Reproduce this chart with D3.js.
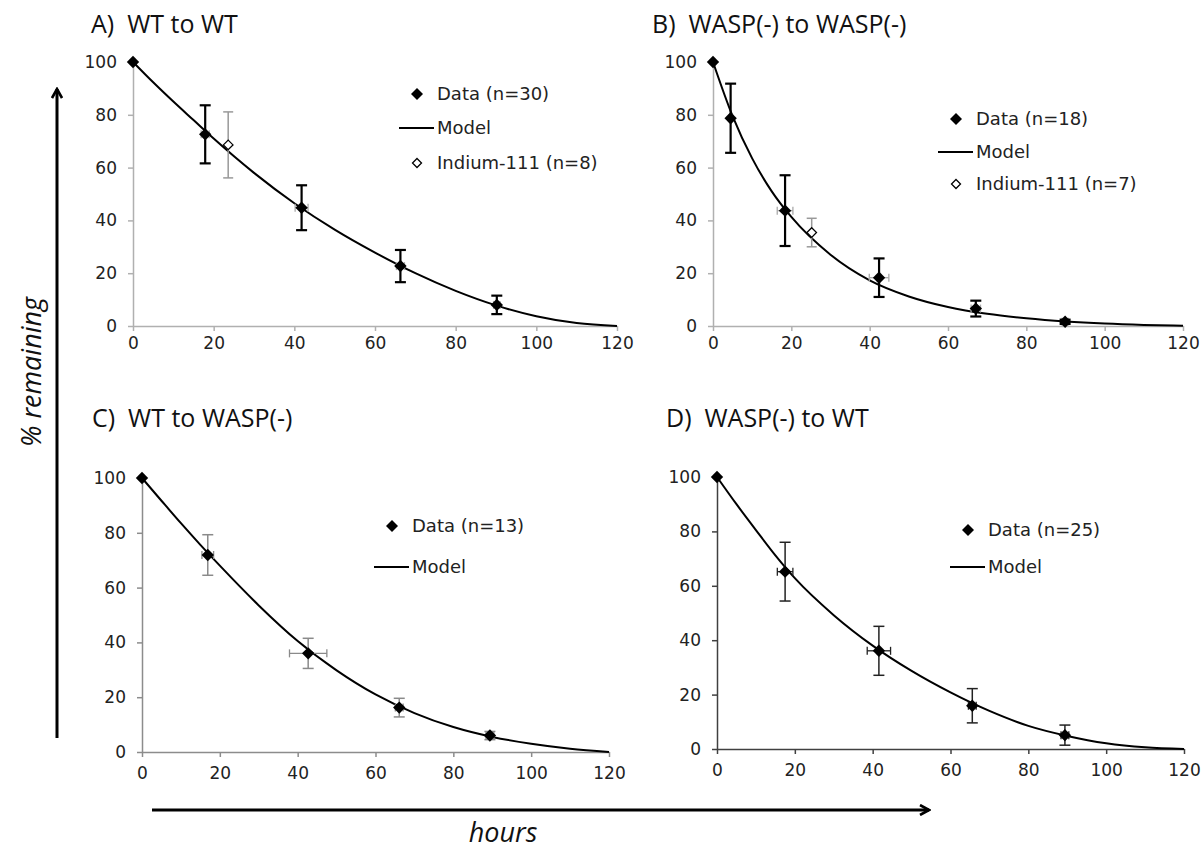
<!DOCTYPE html>
<html>
<head>
<meta charset="utf-8">
<script src="https://cdn.jsdelivr.net/npm/d3@7"></script>
<style>
  body { margin: 0; background: #fff; }
  svg { display: block; }
</style>
</head>
<body>
<div id="chart"></div>
<script>
// ---- data ----
const xTicks = [0, 20, 40, 60, 80, 100, 120];
const yTicks = [0, 20, 40, 60, 80, 100];

const titles = ["A)  WT to WT", "B)  WASP(-) to WASP(-)", "C)  WT to WASP(-)", "D)  WASP(-) to WT"];
const dataLabels = ["Data (n=30)", "Data (n=18)", "Data (n=13)", "Data (n=25)"];
const indiumLabels = ["Indium-111 (n=8)", "Indium-111 (n=7)", null, null];

// model curves
const modelHours = [0, 5, 10, 15, 20, 30, 40, 50, 60, 70, 80, 90, 100, 110, 120];
const modelA = [100, 92.3, 85, 78, 71, 58, 46.5, 36.5, 27.8, 20, 13.3, 7.8, 3.7, 1.1, 0];
const modelB = [100, 79.5, 63.5, 51, 41.3, 27, 17.3, 11.2, 7.2, 4.6, 2.9, 1.7, 0.9, 0.4, 0.1];
const modelC = [100, 91.7, 83.5, 75.6, 68, 53.5, 40.5, 29.8, 21, 14.2, 9.1, 5.5, 3, 1.2, 0];
const modelD = [100, 90, 80.5, 71.2, 62.8, 49.2, 38, 28.7, 20.8, 14, 8.5, 4.8, 2.1, 0.6, 0];

// measured points: hours, % remaining, +/- error (vertical), +/- error (hours)
const hoursA = [0, 17.9, 41.8, 66.3, 90.2];
const pctA   = [100, 72.6, 44.8, 22.7, 8.0];
const errA   = [0, 11, 8.5, 6.1, 3.5];
const hErrA  = [0, 1, 1.6, 1, 0.8];
const indHoursA = [23.6];
const indPctA   = [68.6];
const indErrA   = [12.5];

const hoursB = [0, 4.5, 18.4, 42.4, 67.1, 89.9];
const pctB   = [100, 78.7, 43.7, 18.3, 6.6, 1.6];
const errB   = [0, 13.1, 13.4, 7.3, 3, 0.8];
const hErrB  = [0, 0.5, 2, 2.5, 1.2, 0.8];
const indHoursB = [25.2];
const indPctB   = [35.4];
const indErrB   = [5.4];

const hoursC = [0, 16.9, 42.7, 66.1, 89.4];
const pctC   = [100, 71.9, 36.0, 16.2, 6.0];
const errC   = [0, 7.4, 5.5, 3.4, 1.5];
const hErrC  = [0, 1.5, 4.8, 1, 1];

const hoursD = [0, 17.5, 41.6, 65.6, 89.4];
const pctD   = [100, 65.2, 36.1, 15.9, 5.1];
const errD   = [0, 10.8, 9, 6.3, 3.7];
const hErrD  = [0, 2, 3, 1, 1];

// ---- layout ----
const W = 1204, H = 849;
const svg = d3.select("#chart").append("svg")
  .attr("width", W)
  .attr("height", H);

const panels = [
  { i: 0, left: 133, right: 617, top: 62, bottom: 326, titleX: 91, titleY: 33,
    axisColor: "#b0b0b0", barColor: "#000", barW: 2.2, hBarColor: "#aaa", pad: 6,
    model: modelA, hours: hoursA, pct: pctA, err: errA, hErr: hErrA,
    ind: { hours: indHoursA, pct: indPctA, err: indErrA },
    leg: { x: 417, y: [94, 128, 163] } },
  { i: 1, left: 713, right: 1183, top: 62, bottom: 326, titleX: 652, titleY: 33,
    axisColor: "#b0b0b0", barColor: "#000", barW: 2.2, hBarColor: "#aaa", pad: 6,
    model: modelB, hours: hoursB, pct: pctB, err: errB, hErr: hErrB,
    ind: { hours: indHoursB, pct: indPctB, err: indErrB },
    leg: { x: 956, y: [119, 152, 184] } },
  { i: 2, left: 142, right: 609, top: 478, bottom: 752, titleX: 92, titleY: 427,
    axisColor: "#8c8c8c", barColor: "#8a8a8a", barW: 1.5, hBarColor: "#8a8a8a", pad: 10,
    model: modelC, hours: hoursC, pct: pctC, err: errC, hErr: hErrC,
    ind: null,
    leg: { x: 392, y: [526, 567] } },
  { i: 3, left: 717, right: 1184, top: 477, bottom: 749, titleX: 666, titleY: 427,
    axisColor: "#404040", barColor: "#222", barW: 1.5, hBarColor: "#222", pad: 10,
    model: modelD, hours: hoursD, pct: pctD, err: errD, hErr: hErrD,
    ind: null,
    leg: { x: 968, y: [530, 567] } }
];

function diamond(r) {
  return `M0,${-r}L${r},0L0,${r}L${-r},0Z`;
}

function drawPanel(p) {
  const g = svg.append("g");

  const x = d3.scaleLinear().domain([0, 120]).range([p.left, p.right]);
  const y = d3.scaleLinear().domain([0, 100]).range([p.bottom, p.top]);

  // title
  g.append("text")
    .attr("x", p.titleX)
    .attr("y", p.titleY)
    .attr("font-family", "Open Sans, sans-serif")
    .attr("font-size", 25)
    .attr("fill", "#111")
    .style("white-space", "pre")
    .text(titles[p.i]);

  // axes
  const xAxis = g.append("g")
    .attr("transform", `translate(0,${p.bottom})`)
    .call(d3.axisBottom(x).tickValues(xTicks).tickSize(5).tickSizeOuter(0).tickPadding(p.pad));
  const yAxis = g.append("g")
    .attr("transform", `translate(${p.left},0)`)
    .call(d3.axisLeft(y).tickValues(yTicks).tickSize(5).tickSizeOuter(0).tickPadding(11));

  [xAxis, yAxis].forEach(a => {
    a.select(".domain").attr("stroke", p.axisColor).attr("stroke-width", 1.5);
    a.selectAll(".tick line").attr("stroke", p.axisColor).attr("stroke-width", 1.5);
    a.selectAll(".tick text")
      .attr("fill", "#222")
      .attr("font-family", "DejaVu Sans, Verdana, sans-serif")
      .attr("font-size", 17);
  });

  // model line
  const line = d3.line()
    .x((d, k) => x(modelHours[k]))
    .y(d => y(d))
    .curve(d3.curveMonotoneX);
  g.append("path")
    .datum(p.model)
    .attr("d", line)
    .attr("fill", "none")
    .attr("stroke", "#000")
    .attr("stroke-width", 2);

  // indium points (drawn first, behind data)
  if (p.ind) {
    p.ind.hours.forEach((h, k) => {
      const cx = x(h), v = p.ind.pct[k], e = p.ind.err[k];
      g.append("line")
        .attr("x1", cx).attr("x2", cx)
        .attr("y1", y(v + e)).attr("y2", y(v - e))
        .attr("stroke", "#999").attr("stroke-width", 1.5);
      [v + e, v - e].forEach(c => {
        g.append("line")
          .attr("x1", cx - 5).attr("x2", cx + 5)
          .attr("y1", y(c)).attr("y2", y(c))
          .attr("stroke", "#999").attr("stroke-width", 1.5);
      });
      g.append("path")
        .attr("d", diamond(4.8))
        .attr("transform", `translate(${cx},${y(v)})`)
        .attr("fill", "#fff")
        .attr("stroke", "#000")
        .attr("stroke-width", 1.3);
    });
  }

  // data points with error bars
  p.hours.forEach((h, k) => {
    const cx = x(h), cy = y(p.pct[k]), e = p.err[k], he = p.hErr[k];
    if (he > 0) {
      g.append("line")
        .attr("x1", x(h - he)).attr("x2", x(h + he))
        .attr("y1", cy).attr("y2", cy)
        .attr("stroke", p.hBarColor).attr("stroke-width", 1.3);
      [h - he, h + he].forEach(c => {
        g.append("line")
          .attr("x1", x(c)).attr("x2", x(c))
          .attr("y1", cy - 4).attr("y2", cy + 4)
          .attr("stroke", p.hBarColor).attr("stroke-width", 1.3);
      });
    }
    if (e > 0) {
      g.append("line")
        .attr("x1", cx).attr("x2", cx)
        .attr("y1", y(p.pct[k] + e)).attr("y2", y(p.pct[k] - e))
        .attr("stroke", p.barColor).attr("stroke-width", p.barW);
      [p.pct[k] + e, p.pct[k] - e].forEach(c => {
        g.append("line")
          .attr("x1", cx - 5.5).attr("x2", cx + 5.5)
          .attr("y1", y(c)).attr("y2", y(c))
          .attr("stroke", p.barColor).attr("stroke-width", p.barW);
      });
    }
    g.append("path")
      .attr("d", diamond(6.2))
      .attr("transform", `translate(${cx},${cy})`)
      .attr("fill", "#000");
  });

  // legend
  const lg = g.append("g")
    .attr("font-family", "DejaVu Sans, Verdana, sans-serif")
    .attr("font-size", 18)
    .attr("fill", "#222");
  const tx = p.leg.x + 20;
  lg.append("path")
    .attr("d", diamond(6))
    .attr("transform", `translate(${p.leg.x},${p.leg.y[0]})`)
    .attr("fill", "#000");
  lg.append("text").attr("x", tx).attr("y", p.leg.y[0]).attr("dy", "0.35em").text(dataLabels[p.i]);
  lg.append("line")
    .attr("x1", p.leg.x - 18).attr("x2", p.leg.x + 17)
    .attr("y1", p.leg.y[1]).attr("y2", p.leg.y[1])
    .attr("stroke", "#000").attr("stroke-width", 2);
  lg.append("text").attr("x", tx).attr("y", p.leg.y[1]).attr("dy", "0.35em").text("Model");
  if (indiumLabels[p.i]) {
    lg.append("path")
      .attr("d", diamond(4.5))
      .attr("transform", `translate(${p.leg.x},${p.leg.y[2]})`)
      .attr("fill", "#fff")
      .attr("stroke", "#000")
      .attr("stroke-width", 1.3);
    lg.append("text").attr("x", tx).attr("y", p.leg.y[2]).attr("dy", "0.35em").text(indiumLabels[p.i]);
  }
}

panels.forEach(drawPanel);

// big arrows and shared axis labels
const defs = svg.append("defs");
defs.append("marker")
  .attr("id", "head")
  .attr("viewBox", "0 0 12 12")
  .attr("refX", 10).attr("refY", 6)
  .attr("markerWidth", 12).attr("markerHeight", 12)
  .attr("markerUnits", "userSpaceOnUse")
  .attr("orient", "auto")
  .append("path")
  .attr("d", "M1,1L10,6L1,11")
  .attr("fill", "none")
  .attr("stroke", "#000")
  .attr("stroke-width", 2.6);

svg.append("line")
  .attr("x1", 57).attr("y1", 738)
  .attr("x2", 57).attr("y2", 89)
  .attr("stroke", "#000").attr("stroke-width", 3)
  .attr("marker-end", "url(#head)");

svg.append("line")
  .attr("x1", 152).attr("y1", 810)
  .attr("x2", 929).attr("y2", 810)
  .attr("stroke", "#000").attr("stroke-width", 3)
  .attr("marker-end", "url(#head)");

svg.append("text")
  .attr("transform", "translate(41,372) rotate(-90)")
  .attr("text-anchor", "middle")
  .attr("font-family", "Open Sans, sans-serif")
  .attr("font-style", "italic")
  .attr("font-size", 27)
  .attr("fill", "#111")
  .text("% remaining");

svg.append("text")
  .attr("x", 503)
  .attr("y", 842)
  .attr("text-anchor", "middle")
  .attr("font-family", "Open Sans, sans-serif")
  .attr("font-style", "italic")
  .attr("font-size", 27)
  .attr("fill", "#111")
  .text("hours");
</script>
</body>
</html>
